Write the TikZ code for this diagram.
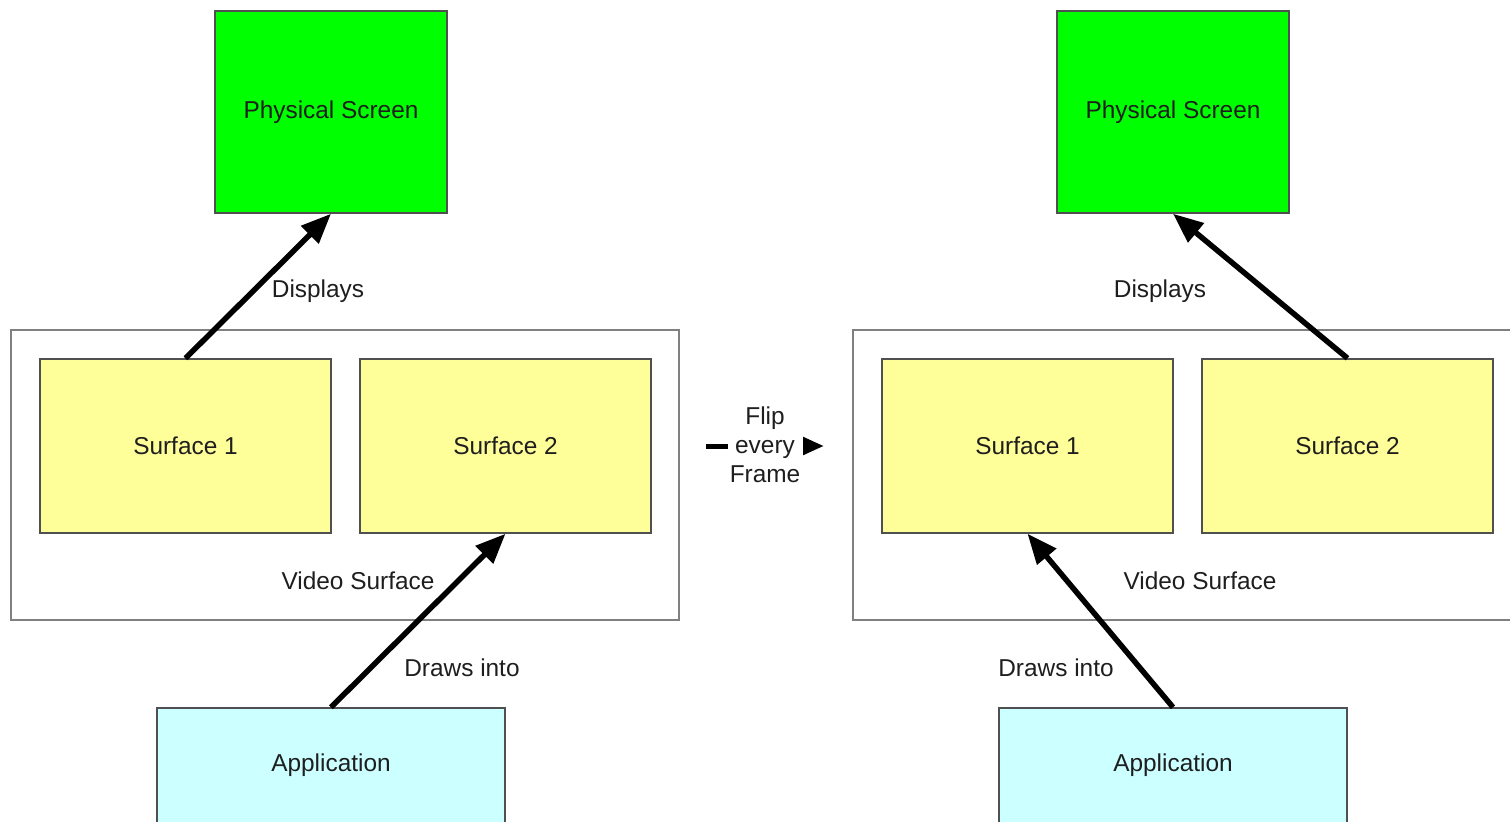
\documentclass[tikz,border=0pt]{standalone}
\usepackage{fontspec}
\setmainfont{Liberation Sans}
\usetikzlibrary{arrows.meta}
\definecolor{scrgreen}{HTML}{00FF00}
\definecolor{surfyellow}{HTML}{FFFF99}
\definecolor{appcyan}{HTML}{CCFFFF}
\definecolor{boxedge}{HTML}{505050}
\definecolor{vsedge}{HTML}{808080}
\definecolor{txt}{HTML}{1E1E1E}
\tikzset{
  box/.style={draw=boxedge, line width=0.75pt, inner sep=0pt, text=txt},
  screenbox/.style={box, fill=scrgreen, minimum width=116pt, minimum height=101pt},
  surfbox/.style={box, fill=surfyellow, minimum width=145.5pt, minimum height=87pt},
  appbox/.style={box, fill=appcyan, minimum width=174pt, minimum height=80pt},
  vsbox/.style={draw=vsedge, line width=1pt, fill=white, inner sep=0pt, minimum width=334pt, minimum height=145pt},
  lbl/.style={text=txt, inner sep=1pt},
  bigarrow/.style={line width=2.75pt, -{Triangle[length=15pt,width=12pt]}},
}
\begin{document}
\begin{tikzpicture}[x=0.5pt,y=-0.5pt,font=\fontsize{12.2pt}{14.6pt}\selectfont]
\useasboundingbox (0,0) rectangle (1510,821);
\clip (0,0) rectangle (1510,821);
\fill[white] (0,0) rectangle (1510,821);
% Left
\node[vsbox] (vsL) at (345,475) {};
\node[screenbox] (physL) at (331,112) {Physical Screen};
\node[surfbox] (s1L) at (185.5,446) {Surface 1};
\node[surfbox] (s2L) at (505.5,446) {Surface 2};
\node[lbl] (vslL) at (358,581) {Video Surface};
\node[appbox] (appL) at (331,788) {};
\node[lbl] at (331,765) {Application};
\draw[bigarrow] (s1L.north) -- (physL.south);
\draw[bigarrow] (appL.north) -- (s2L.south);
\node[lbl] (dispL) at (318,291) {Displays};
\node[lbl] (drawL) at (462,668) {Draws into};
% Right
\node[vsbox] (vsR) at (1187,475) {};
\node[screenbox] (physR) at (1173,112) {Physical Screen};
\node[surfbox] (s1R) at (1027.5,446) {Surface 1};
\node[surfbox] (s2R) at (1347.5,446) {Surface 2};
\node[lbl] (vslR) at (1200,581) {Video Surface};
\node[appbox] (appR) at (1173,788) {};
\node[lbl] at (1173,765) {Application};
\draw[bigarrow] (s2R.north) -- (physR.south);
\draw[bigarrow] (appR.north) -- (s1R.south);
\node[lbl] (dispR) at (1160,291) {Displays};
\node[lbl] (drawR) at (1056,668) {Draws into};
% Flip
\node[lbl, align=center, inner sep=0.5pt] (flip) at (765,445) {Flip\\every\\Frame};
\coordinate (flipA) at (706,446);
\coordinate (flipB) at (824,446);
\draw[line width=2.5pt] (flipA) -- (flip.west |- flipA);
\draw[line width=2.5pt, -{Triangle[length=10.5pt,width=8.5pt]}] ([xshift=-10.5pt]flipB) -- (flipB);
\end{tikzpicture}
\end{document}
